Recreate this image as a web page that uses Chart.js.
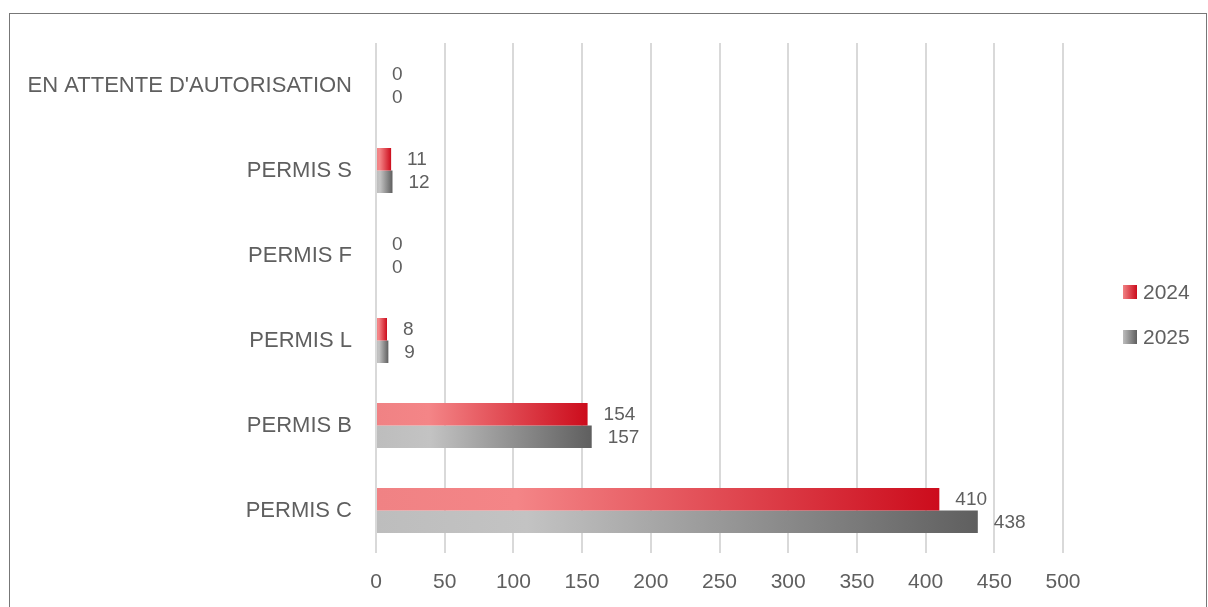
<!DOCTYPE html>
<html>
<head>
<meta charset="utf-8">
<script src="https://cdn.jsdelivr.net/npm/chart.js@4"></script>
<style>
  html, body { margin: 0; padding: 0; background: #fff; }
  #wrap { position: relative; width: 1208px; height: 607px; }
  #frame { position: absolute; left: 9px; top: 13px; width: 1196px; height: 620px;
           border: 1.5px solid #777; pointer-events: none; }
</style>
</head>
<body>
<div id="wrap">
  <canvas id="permis-chart" width="1208" height="607"></canvas>
  <div id="frame"></div>
</div>
<script>
// Données
const categories = ["EN ATTENTE D'AUTORISATION", 'PERMIS S', 'PERMIS F', 'PERMIS L', 'PERMIS B', 'PERMIS C'];
const valeurs2024 = [0, 11, 0, 8, 154, 410];
const valeurs2025 = [0, 12, 0, 9, 157, 438];
const seriesNames = ['2024', '2025'];
const xTicks = [0, 50, 100, 150, 200, 250, 300, 350, 400, 450, 500];

const FONT = "'Liberation Sans', Arial, sans-serif";
const TXT = '#5f5f5f';

const rouge = [[0, '#f08284'], [0.25, '#f48587'], [1, '#cc0c1c']];
const gris = [[0, '#bdbdbd'], [0.25, '#c3c3c3'], [1, '#5f5f5f']];

function makeGrad(ctx, x0, x1, stops) {
  const g = ctx.createLinearGradient(x0, 0, Math.max(x1, x0 + 1), 0);
  stops.forEach(s => g.addColorStop(s[0], s[1]));
  return g;
}

function barFill(stops) {
  return function(context) {
    const chart = context.chart;
    const x = chart.scales.x;
    if (!chart.chartArea || !x || context.raw === undefined) return stops[1][1];
    const x0 = x.getPixelForValue(0);
    const x1 = x.getPixelForValue(context.raw);
    if (!isFinite(x0) || !isFinite(x1)) return stops[1][1];
    return makeGrad(chart.ctx, x0, x1, stops);
  };
}

// Étiquettes de valeurs + légende
const extras = {
  id: 'extras',
  afterDatasetsDraw(chart) {
    const ctx = chart.ctx;
    ctx.save();
    ctx.font = '19px ' + FONT;
    ctx.fillStyle = TXT;
    ctx.textAlign = 'left';
    ctx.textBaseline = 'middle';
    chart.data.datasets.forEach((ds, i) => {
      chart.getDatasetMeta(i).data.forEach((bar, j) => {
        ctx.fillText(String(ds.data[j]), bar.x + 16, bar.y + 1);
      });
    });
    // légende
    const lx = 1123, ly = [292, 337];
    [rouge, gris].forEach((st, i) => {
      ctx.fillStyle = makeGrad(ctx, lx, lx + 14, [[0, st[0][1]], [1, st[2][1]]]);
      ctx.fillRect(lx, ly[i] - 7, 14, 14);
      ctx.fillStyle = TXT;
      ctx.font = '21px ' + FONT;
      ctx.fillText(seriesNames[i], lx + 20, ly[i] + 1);
    });
    ctx.restore();
  }
};

new Chart(document.getElementById('permis-chart'), {
  type: 'bar',
  data: {
    labels: categories,
    datasets: [
      { label: seriesNames[0], data: valeurs2024, backgroundColor: barFill(rouge) },
      { label: seriesNames[1], data: valeurs2025, backgroundColor: barFill(gris) }
    ]
  },
  options: {
    indexAxis: 'y',
    responsive: false,
    animation: false,
    categoryPercentage: 0.53,
    barPercentage: 1,
    layout: { padding: { top: 43, right: 145, left: 0, bottom: 0 } },
    plugins: { legend: { display: false }, tooltip: { enabled: false } },
    scales: {
      x: {
        min: 0, max: 500,
        afterBuildTicks: s => { s.ticks = xTicks.map(v => ({ value: v })); },
        afterFit: s => { s.height = 54; },
        grid: { color: '#d9d9d9', lineWidth: 2, drawTicks: false },
        border: { display: false },
        ticks: { color: TXT, font: { family: FONT, size: 21 }, padding: 17 }
      },
      y: {
        afterFit: s => { s.width = 376; },
        grid: { display: false, drawTicks: false },
        border: { display: false },
        ticks: { color: TXT, font: { family: FONT, size: 22 }, padding: 24 }
      }
    }
  },
  plugins: [extras]
});
</script>
</body>
</html>
